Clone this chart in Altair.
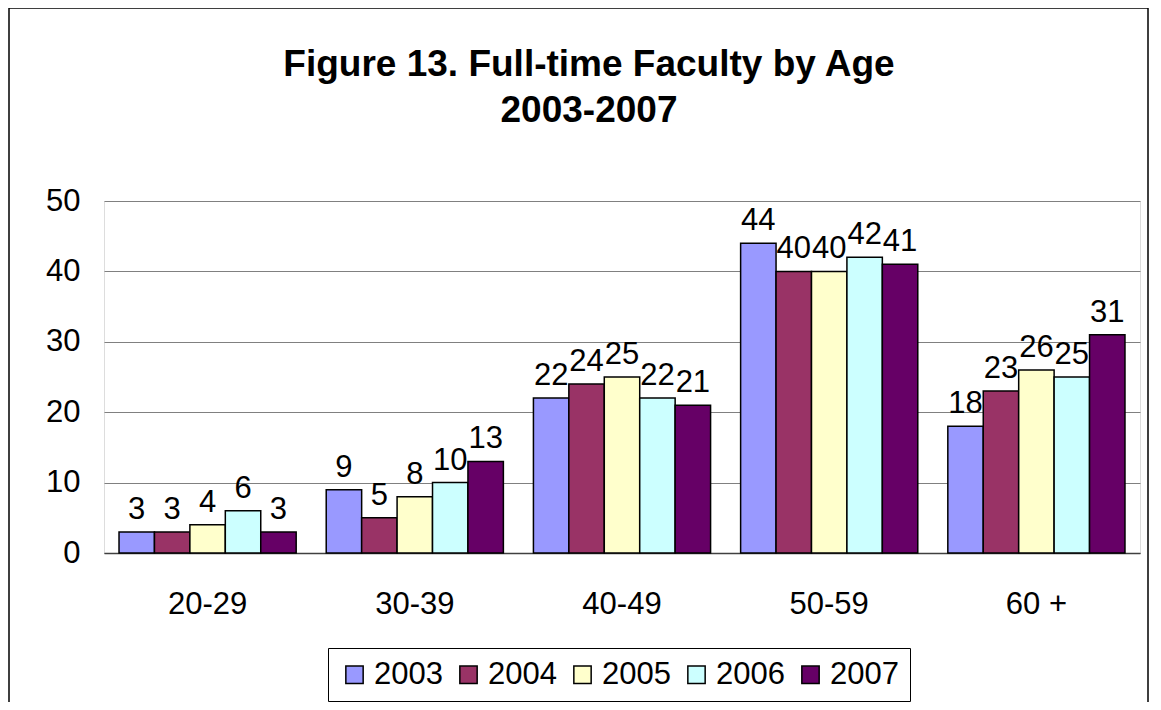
import altair as alt
import pandas as pd

age_groups = ["20-29", "30-39", "40-49", "50-59", "60 +"]
years = ["2003", "2004", "2005", "2006", "2007"]
v2003 = [3, 9, 22, 44, 18]
v2004 = [3, 5, 24, 40, 23]
v2005 = [4, 8, 25, 40, 26]
v2006 = [6, 10, 22, 42, 25]
v2007 = [3, 13, 21, 41, 31]
colors = ["#9999FF", "#993366", "#FFFFCC", "#CCFFFF", "#660066"]

series = [v2003, v2004, v2005, v2006, v2007]
rows = []
for y, vals in zip(years, series):
    for a, v in zip(age_groups, vals):
        rows.append({"age": a, "year": y, "value": v})
df = pd.DataFrame(rows)

FONT = "Liberation Sans"
FS = 31
W, H = 1036, 352

x_enc = alt.X("age:N", sort=age_groups, title=None,
              scale=alt.Scale(paddingInner=0.145, paddingOuter=0.0725),
              axis=alt.Axis(labelAngle=0, labelFontSize=FS, labelFont=FONT, labelColor="black",
                            labelPadding=36, ticks=False, domainColor="#404040", domainWidth=1.5,
                            grid=False))
xoff = alt.XOffset("year:N", sort=years, scale=alt.Scale(paddingInner=0, paddingOuter=0))
y_enc = alt.Y("value:Q", title=None,
              scale=alt.Scale(domain=[0, 50], nice=False),
              axis=alt.Axis(values=[0, 10, 20, 30, 40, 50], labelFontSize=FS, labelFont=FONT,
                            labelColor="black", labelPadding=24, ticks=False, domain=False,
                            grid=True, gridColor="#808080", gridWidth=1))

base = alt.Chart(df)

bars = base.mark_bar(stroke="black", strokeWidth=1.5).encode(
    x=x_enc, xOffset=xoff, y=y_enc,
    color=alt.Color("year:N", sort=years, scale=alt.Scale(domain=years, range=colors),
                    legend=alt.Legend(title=None, orient="none", legendX=224, legendY=447,
                                      direction="horizontal", symbolType="square",
                                      symbolSize=300, symbolStrokeColor="black",
                                      symbolStrokeWidth=1.5, labelFontSize=FS, labelFont=FONT,
                                      labelColor="black", strokeColor="black", padding=11,
                                      columnPadding=10, labelOffset=4, fillColor="white")),
)

labels = base.mark_text(baseline="bottom", dy=-6, fontSize=FS, font=FONT, color="black").encode(
    x=alt.X("age:N", sort=age_groups), xOffset=alt.XOffset("year:N", sort=years),
    y="value:Q", text="value:Q",
)

border = alt.Chart(pd.DataFrame({"k": [0]})).mark_rect(
    fillOpacity=0, stroke="black", strokeWidth=1.5).encode(
    x=alt.value(-95), x2=alt.value(1044), y=alt.value(-193), y2=alt.value(H + 200))

chart = alt.layer(bars, labels, border).properties(
    width=W, height=H,
    title=alt.TitleParams(["Figure 13. Full-time Faculty by Age", "2003-2007"],
                          fontSize=37, font=FONT, fontWeight="bold", color="black",
                          anchor="middle", frame="group", dx=-33, offset=-152,
                          baseline="alphabetic", lineHeight=46),
    autosize=alt.AutoSizeParams(type="none"),
    padding={"left": 96, "top": 193, "right": 10, "bottom": 149},
).configure_view(stroke="#808080", strokeWidth=1.5).configure(background="white")

chart.save("out.html", embed_options={"renderer": "svg", "actions": False})
